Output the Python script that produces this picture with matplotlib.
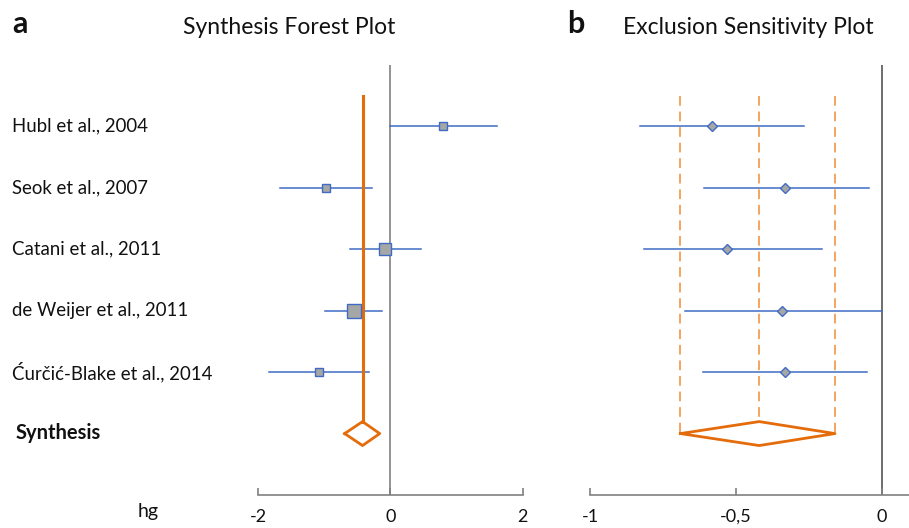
import matplotlib
matplotlib.use("Agg")
from matplotlib import pyplot as plt
import numpy as np

plt.rcParams['font.family'] = ['Lato', 'DejaVu Sans']

# study data (hedges g)
studies = ["Hubl et al., 2004", "Seok et al., 2007", "Catani et al., 2011",
           "de Weijer et al., 2011", "Ćurčić-Blake et al., 2014"]
g = [0.80, -0.97, -0.08, -0.55, -1.08]
g_low = [0.00, -1.66, -0.61, -0.98, -1.84]
g_high = [1.61, -0.28, 0.46, -0.13, -0.32]
weights = [12, 12, 23, 41, 12]

# pooled estimate
synth = -0.42
synth_low = -0.69
synth_high = -0.16

# leave-one-out estimates
loo = [-0.58, -0.33, -0.53, -0.34, -0.33]
loo_low = [-0.83, -0.61, -0.815, -0.673, -0.614]
loo_high = [-0.265, -0.042, -0.204, 0.0, -0.049]

ticks_a = [-2, 0, 2]
ticks_b = [-1, -0.5, 0]
ticklabels_b = ["-1", "-0,5", "0"]

blue = "#3F6BC4"
orange = "#E46C0A"
light_orange = "#F4A460"
grey_fill = "#A6A6A6"
txt = "#111111"

fig = plt.figure(figsize=(9.09, 5.28), dpi=100)
axa = fig.add_axes([0.2838, 0.0625, 0.2912, 0.8144])
axb = fig.add_axes([0.649, 0.0625, 0.351, 0.8144])

rows = np.arange(len(studies))
n = len(studies)
dh = 0.195  # half height of diamonds

# ---- panel a ----
axa.axvline(0, color="#808080", lw=1.2, zorder=1)
for i in rows:
    axa.plot([g_low[i], g_high[i]], [i, i], color=blue, lw=1.1, zorder=2)
    axa.plot(g[i], i, marker="s", ms=1.67 * np.sqrt(weights[i]),
             mfc=grey_fill, mec=blue, mew=1.0, zorder=3)
axa.plot([synth, synth], [-0.5, n - dh], color=orange, lw=2.2, zorder=2)
axa.plot([synth_low, synth, synth_high, synth, synth_low],
         [n, n - dh, n, n + dh, n], color=orange, lw=2.0, zorder=3)

# ---- panel b ----
axb.axvline(0, color="#555555", lw=1.2, zorder=1)
for xv, top in [(synth_low, n), (synth, n - dh), (synth_high, n)]:
    axb.plot([xv, xv], [-0.5, top], color=light_orange, lw=1.4,
             ls=(0, (5, 3)), zorder=1)
for i in rows:
    axb.plot([loo_low[i], loo_high[i]], [i, i], color=blue, lw=1.1, zorder=2)
    axb.plot(loo[i], i, marker="D", ms=4.8, mfc=grey_fill, mec=blue,
             mew=1.0, zorder=3)
axb.plot([synth_low, synth, synth_high, synth, synth_low],
         [n, n - dh, n, n + dh, n], color=orange, lw=2.0, zorder=3)

for ax, xl in [(axa, (-2, 2)), (axb, (-1, 0.0936))]:
    ax.set_xlim(*xl)
    ax.set_ylim(6, -1)
    for s in ["top", "left", "right"]:
        ax.spines[s].set_visible(False)
    ax.spines["bottom"].set_color("#808080")
    ax.spines["bottom"].set_linewidth(1.2)
    ax.set_yticks([])
    ax.tick_params(axis="x", direction="in", length=5, width=1.2,
                   color="#808080", labelsize=13, pad=10, labelcolor=txt)

axa.set_xticks(ticks_a)
axa.set_xticklabels([str(t) for t in ticks_a])
axb.set_xticks(ticks_b)
axb.set_xticklabels(ticklabels_b)

# study labels
for i, name in enumerate(studies):
    fig.text(12 / 909, 1 - (126 + i * 61.4) / 528, name, fontsize=13.4,
             ha="left", va="center", color=txt)
fig.text(16 / 909, 1 - 433 / 528, "Synthesis", fontsize=14.5,
         fontweight="bold", ha="left", va="center", color=txt)
fig.text(148 / 909, 1 - 512 / 528, "hg", fontsize=14, ha="center",
         va="center", color=txt)

# titles
fig.text(12 / 909, 1 - 24 / 528, "a", fontsize=22, fontweight="bold",
         ha="left", va="center", color=txt)
fig.text(289 / 909, 1 - 28 / 528, "Synthesis Forest Plot", fontsize=16.5,
         ha="center", va="center", color=txt)
fig.text(567 / 909, 1 - 24 / 528, "b", fontsize=22, fontweight="bold",
         ha="left", va="center", color=txt)
fig.text(748 / 909, 1 - 28 / 528, "Exclusion Sensitivity Plot", fontsize=16.5,
         ha="center", va="center", color=txt)

fig.savefig("out.png", dpi=100)
